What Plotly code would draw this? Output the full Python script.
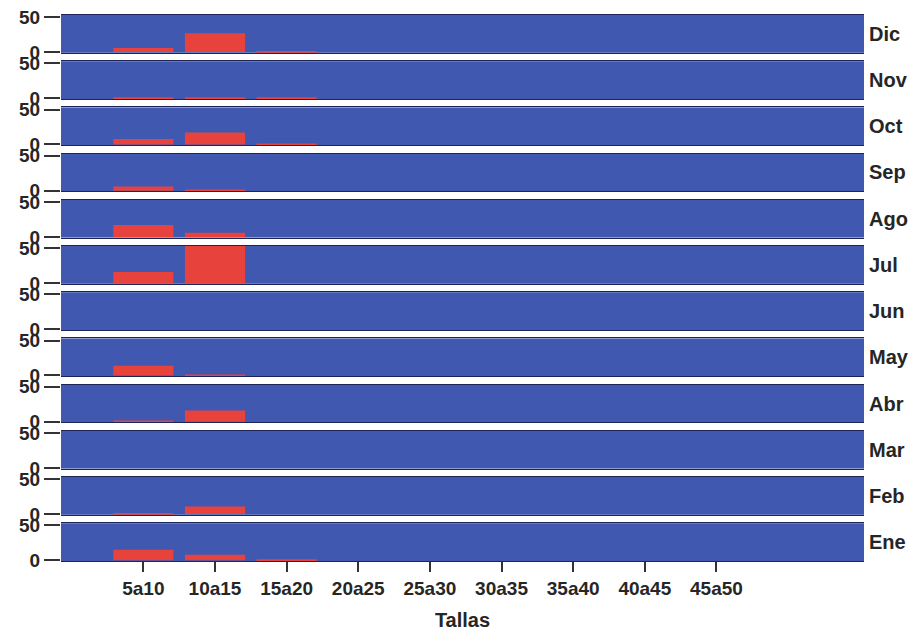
import plotly.graph_objects as go
from plotly.subplots import make_subplots

tallas = ["5a10", "10a15", "15a20", "20a25", "25a30", "30a35", "35a40", "40a45", "45a50"]
meses = ["Dic", "Nov", "Oct", "Sep", "Ago", "Jul", "Jun", "May", "Abr", "Mar", "Feb", "Ene"]

dic = [6, 27, 0.5, 0, 0, 0, 0, 0, 0]
nov = [1.5, 1.5, 0.5, 0, 0, 0, 0, 0, 0]
oct_ = [8, 17, 0.5, 0, 0, 0, 0, 0, 0]
sep = [6, 1, 0, 0, 0, 0, 0, 0, 0]
ago = [17, 6, 0, 0, 0, 0, 0, 0, 0]
jul = [16, 55, 0, 0, 0, 0, 0, 0, 0]
jun = [0, 0, 0, 0, 0, 0, 0, 0, 0]
may = [14, 0.5, 0, 0, 0, 0, 0, 0, 0]
abr = [0.5, 16, 0, 0, 0, 0, 0, 0, 0]
mar = [0, 0, 0, 0, 0, 0, 0, 0, 0]
feb = [0.5, 11, 0, 0, 0, 0, 0, 0, 0]
ene = [15, 8, 0.5, 0, 0, 0, 0, 0, 0]

series = [dic, nov, oct_, sep, ago, jul, jun, may, abr, mar, feb, ene]

BLUE = "#4058b0"
RED = "#e8423c"
TXT = "#262626"
FONT = "Liberation Sans"

n = len(meses)
fig = make_subplots(rows=n, cols=1, shared_xaxes=True, vertical_spacing=0.0154)

for i, (mes, vals) in enumerate(zip(meses, series), start=1):
    fig.add_trace(go.Bar(x=tallas, y=vals, marker=dict(color=RED, line=dict(width=0)),
                         name=mes, showlegend=False), row=i, col=1)
    fig.update_yaxes(row=i, col=1, range=[-1, 53], tickvals=[0, 50], ticktext=["0", "50"],
                     ticks="outside", ticklen=16, tickcolor="#333", tickwidth=1.5,
                     showgrid=False, zeroline=False, showline=False, automargin=False,
                     ticklabeloverflow="allow",
                     tickfont=dict(size=19, color=TXT, family=FONT, weight="bold"))
    last = (i == n)
    fig.update_xaxes(row=i, col=1, type="category", range=[-1.15, 10.06],
                     showgrid=False, zeroline=False, automargin=False,
                     showline=True, mirror=True, linecolor="#1c2458", linewidth=1,
                     ticks="outside" if last else "", ticklen=10, tickcolor="#333", tickwidth=1.5,
                     showticklabels=last, ticklabeloverflow="allow",
                     tickfont=dict(size=19, color=TXT, family=FONT, weight="bold"))
    yref = "y domain" if i == 1 else f"y{i} domain"
    fig.add_annotation(text=mes, xref="paper", x=1.0, xanchor="left", xshift=3,
                       yref=yref, y=0.5, yanchor="middle", showarrow=False,
                       font=dict(size=20, color=TXT, family=FONT, weight="bold"))

fig.update_xaxes(row=n, col=1,
                 title=dict(text="Tallas", font=dict(size=20, color=TXT, family=FONT, weight="bold"),
                            standoff=15))

# page body has an 8px default margin, so margins are offset to land the panels in place
fig.update_layout(
    width=918, height=636,
    margin=dict(l=53, r=62, t=7, b=83, autoexpand=False),
    paper_bgcolor="white", plot_bgcolor=BLUE,
    bargap=0.16,
    font=dict(family=FONT, size=14, color=TXT, weight="bold"),
)

fig.write_html("out.html")
